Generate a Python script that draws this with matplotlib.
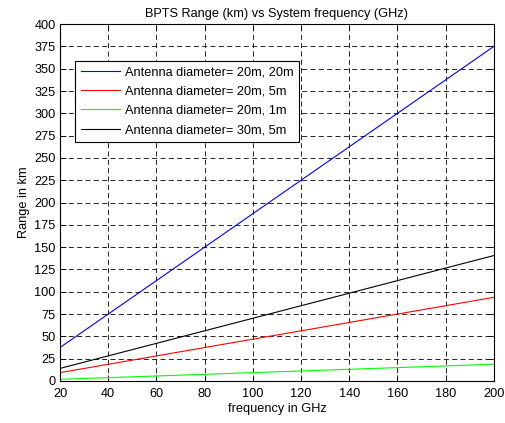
import matplotlib
matplotlib.use("Agg")
import matplotlib.pyplot as plt

plt.rcParams["font.family"] = ["Liberation Sans", "DejaVu Sans"]
plt.rcParams["font.size"] = 9.2

freq = [20, 60, 100, 140, 180, 200]
range_20_20 = [37.5, 112.5, 187.5, 262.5, 337.5, 375]
range_20_5 = [9.4, 28.1, 46.9, 65.6, 84.4, 93.8]
range_20_1 = [1.9, 5.6, 9.4, 13.1, 16.9, 18.8]
range_30_5 = [14.1, 42.2, 70.3, 98.4, 126.6, 140.6]

labels = ["Antenna diameter= 20m, 20m", "Antenna diameter= 20m, 5m",
          "Antenna diameter= 20m, 1m", "Antenna diameter= 30m, 5m"]
colors = ["#0000ff", "#ff0000", "#00ff00", "#000000"]

fig = plt.figure(figsize=(5.06, 4.23), dpi=100)
ax = fig.add_axes([0.1186, 0.0993, 0.8574, 0.8437])

for ys, lab, c in zip([range_20_20, range_20_5, range_20_1, range_30_5], labels, colors):
    ax.plot(freq, ys, color=c, linewidth=0.8, label=lab)

ax.set_xlim(20, 200)
ax.set_ylim(0, 400)
ax.set_xticks(range(20, 201, 20))
ax.set_yticks(range(0, 401, 25))
ax.grid(True, color="black", linestyle=(0, (6, 4)), linewidth=0.6)
ax.tick_params(direction="in", top=True, right=True, length=4, width=0.6,
               colors="black")
ax.tick_params(axis="y", pad=3)
ax.tick_params(axis="x", pad=5)
for s in ax.spines.values():
    s.set_linewidth(0.8)

ax.set_title("BPTS Range (km) vs System frequency (GHz)", fontsize=9.2, pad=5)
ax.set_xlabel("frequency in GHz", labelpad=2)
ax.set_ylabel("Range in km", labelpad=3)

leg = ax.legend(loc="upper left", bbox_to_anchor=(0.035, 0.898), fancybox=False,
                framealpha=1, edgecolor="black", borderaxespad=0, handlelength=3.05,
                handletextpad=0.4, labelspacing=0.57, borderpad=0.45)
leg.get_frame().set_linewidth(0.8)

fig.savefig("out.png", dpi=100)
